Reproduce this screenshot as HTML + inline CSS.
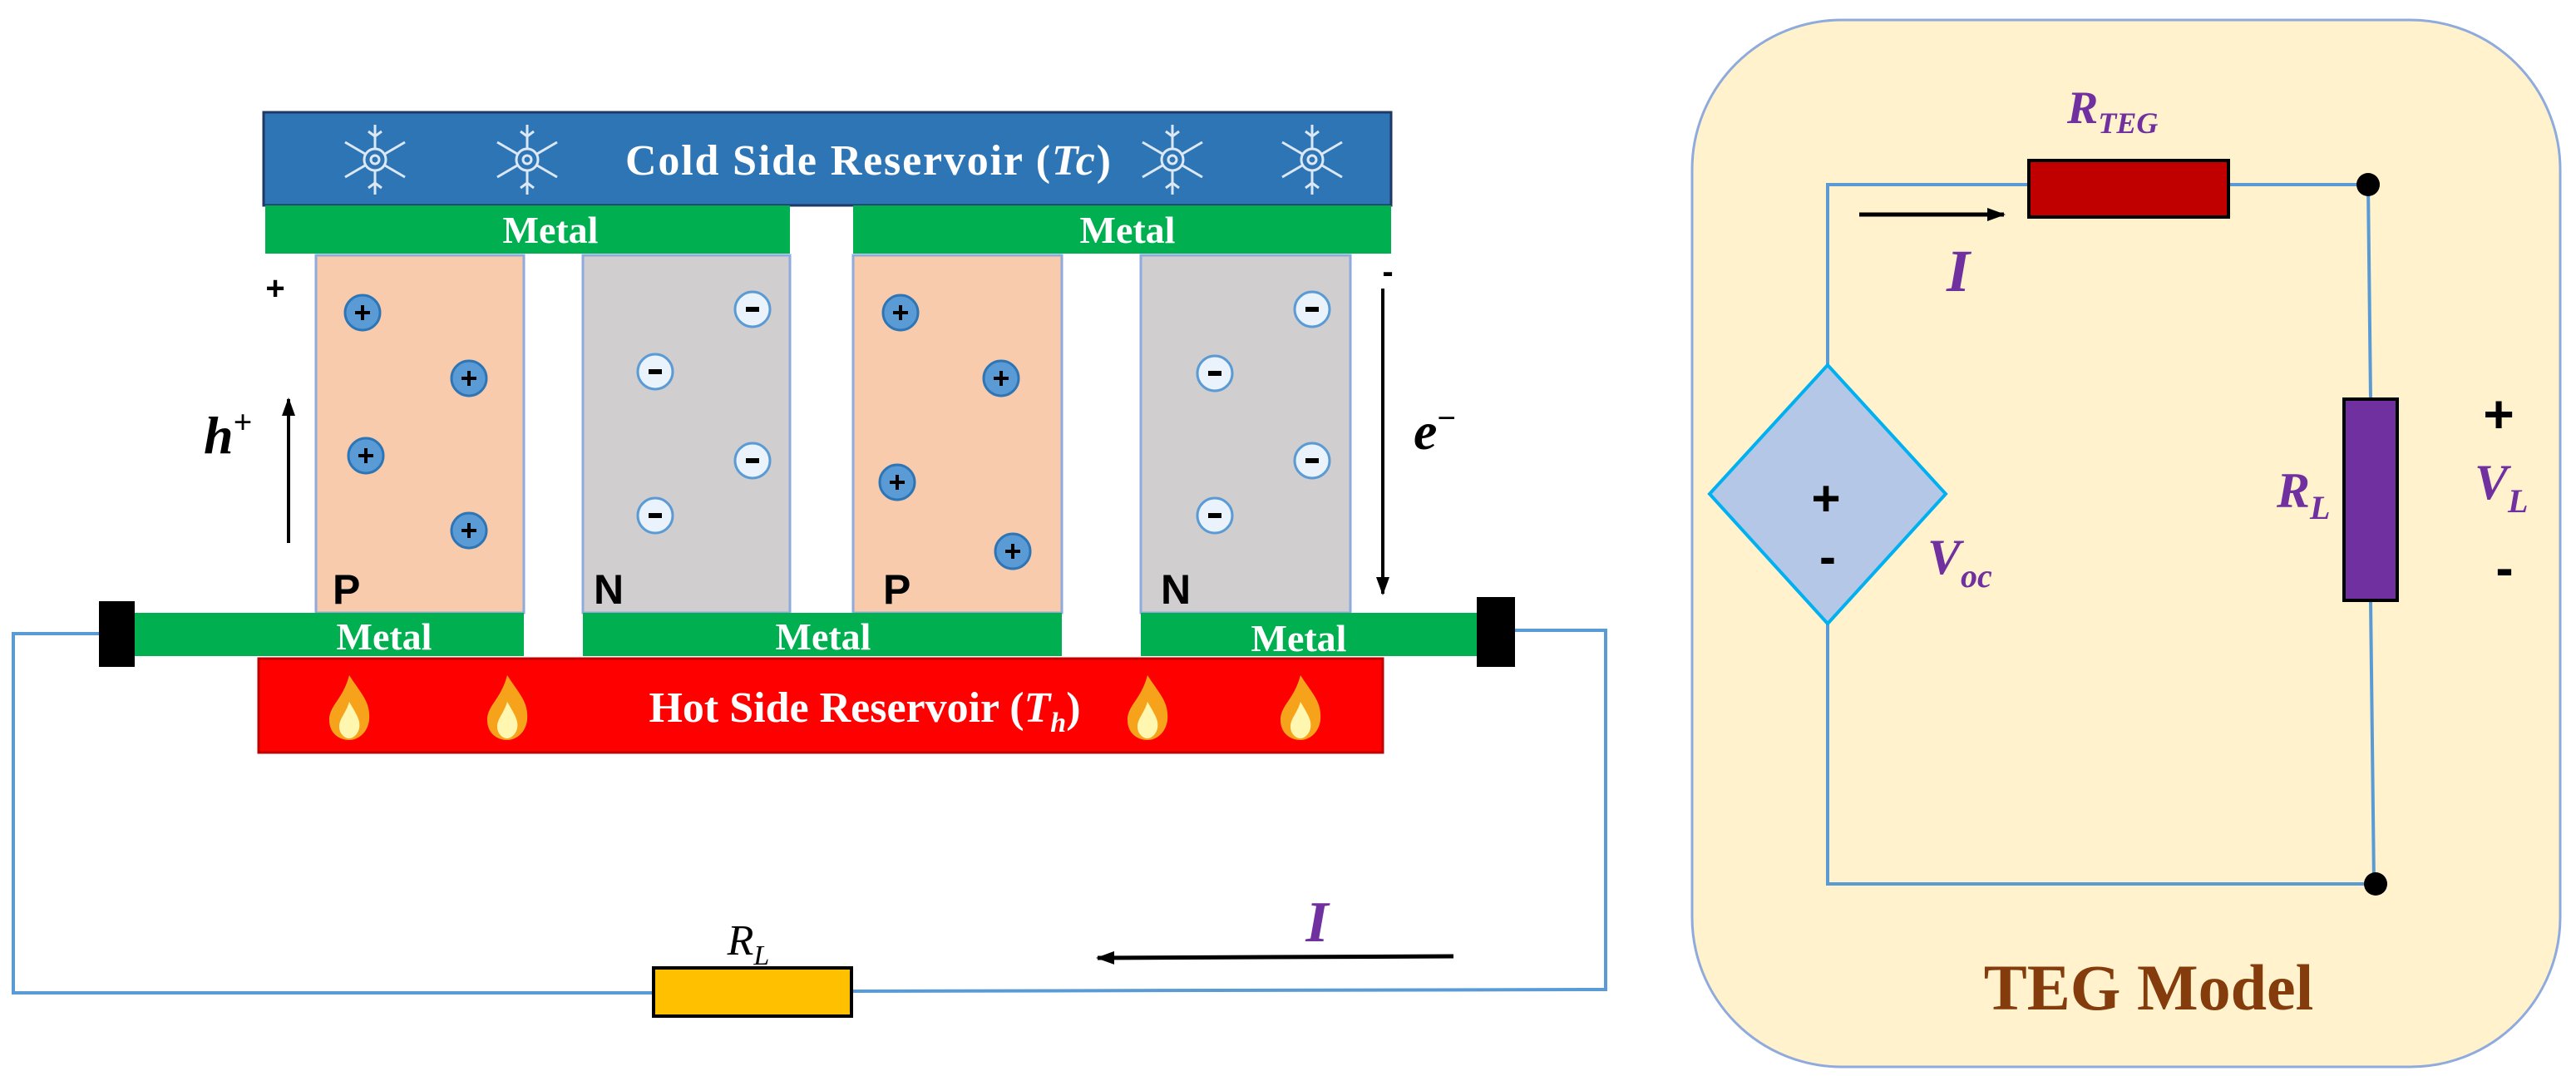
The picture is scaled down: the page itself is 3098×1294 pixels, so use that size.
<!DOCTYPE html>
<html><head><meta charset="utf-8"><style>html,body{margin:0;padding:0;background:#fff}svg{display:block}</style></head>
<body>
<svg width="3098" height="1294" viewBox="0 0 3098 1294" xmlns="http://www.w3.org/2000/svg">
<defs>
<marker id="ah" markerWidth="22" markerHeight="16" refX="20" refY="8" orient="auto" markerUnits="userSpaceOnUse"><path d="M0,0 L22,8 L0,16 z" fill="#000"/></marker>
<g id="snow" stroke="#dce8f5" stroke-width="3" fill="none">
<line x1="0" y1="-42" x2="0" y2="42"/><line x1="-36" y1="-21" x2="36" y2="21"/><line x1="-36" y1="21" x2="36" y2="-21"/>
<circle r="13" fill="#2e75b6"/><circle r="5"/>
<path d="M-8,-34 L0,-28 L8,-34 M-8,34 L0,28 L8,34"/>
</g>
<g id="flame">
<path d="M0,-40 C14,-18 26,-8 24,14 C22,30 10,38 0,38 C-12,38 -24,30 -24,14 C-24,-4 -8,-10 0,-40 z" fill="#f7a21b"/>
<path d="M0,-8 C8,6 14,14 12,24 C10,32 4,36 0,36 C-6,36 -12,30 -12,22 C-12,12 -4,6 0,-8 z" fill="#fff6b0"/>
</g>
<g id="pc"><circle r="21" fill="#5b9bd5" stroke="#2e75b6" stroke-width="3"/><path d="M-9,0 H9 M0,-9 V9" stroke="#000" stroke-width="4"/></g>
<g id="nc"><circle r="21" fill="#eaf2fb" stroke="#5b9bd5" stroke-width="3"/><path d="M-8,0 H8" stroke="#000" stroke-width="6"/></g>
</defs>

<polyline points="119,762 16,762 16,1194 786,1194" fill="none" stroke="#5b9bd5" stroke-width="4"/>
<polyline points="1024,1192 1931,1190 1931,758 1822,758" fill="none" stroke="#5b9bd5" stroke-width="4"/>
<rect x="786" y="1164" width="238" height="58" fill="#ffc000" stroke="#000" stroke-width="4"/>
<text x="900" y="1148" font-family="Liberation Serif,serif" font-style="italic" font-size="52" text-anchor="middle">R<tspan font-size="34" dy="12">L</tspan></text>
<line x1="1748" y1="1150" x2="1320" y2="1152" stroke="#000" stroke-width="5" marker-end="url(#ah)"/>
<text x="1584" y="1132" font-family="Liberation Serif,serif" font-style="italic" font-weight="bold" font-size="70" fill="#7030a0" text-anchor="middle">I</text>

<rect x="317" y="135" width="1356" height="112" fill="#2e75b6" stroke="#1f3864" stroke-width="3"/>
<use href="#snow" x="451" y="192"/><use href="#snow" x="634" y="192"/><use href="#snow" x="1410" y="192"/><use href="#snow" x="1578" y="192"/>
<text x="1044" y="210" font-family="Liberation Serif,serif" font-weight="bold" font-size="52" fill="#fff" text-anchor="middle" textLength="584">Cold Side Reservoir (<tspan font-style="italic">Tc</tspan>)</text>
<rect x="319" y="247" width="631" height="58" fill="#00b050"/>
<rect x="1026" y="247" width="647" height="58" fill="#00b050"/>
<text x="662" y="292" font-family="Liberation Serif,serif" font-weight="bold" font-size="46" fill="#fff" text-anchor="middle">Metal</text>
<text x="1356" y="292" font-family="Liberation Serif,serif" font-weight="bold" font-size="46" fill="#fff" text-anchor="middle">Metal</text>

<g stroke="#8faadc" stroke-width="3">
<rect x="380" y="307" width="250" height="430" fill="#f8cbad"/>
<rect x="701" y="307" width="249" height="430" fill="#d0cece"/>
<rect x="1026" y="307" width="251" height="430" fill="#f8cbad"/>
<rect x="1372" y="307" width="252" height="430" fill="#d0cece"/>
</g>
<use href="#pc" x="436" y="376"/><use href="#pc" x="564" y="455"/><use href="#pc" x="440" y="548"/><use href="#pc" x="564" y="638"/>
<use href="#nc" x="905" y="372"/><use href="#nc" x="788" y="447"/><use href="#nc" x="905" y="554"/><use href="#nc" x="788" y="620"/>
<use href="#pc" x="1083" y="376"/><use href="#pc" x="1204" y="455"/><use href="#pc" x="1079" y="580"/><use href="#pc" x="1218" y="663"/>
<use href="#nc" x="1578" y="372"/><use href="#nc" x="1461" y="449"/><use href="#nc" x="1578" y="554"/><use href="#nc" x="1461" y="620"/>
<g font-family="Liberation Sans,sans-serif" font-weight="bold" font-size="50">
<text x="400" y="726">P</text><text x="714" y="726">N</text><text x="1062" y="726">P</text><text x="1396" y="726">N</text>
</g>

<rect x="162" y="737" width="468" height="52" fill="#00b050"/>
<rect x="701" y="737" width="576" height="52" fill="#00b050"/>
<rect x="1372" y="737" width="404" height="52" fill="#00b050"/>
<g font-family="Liberation Serif,serif" font-weight="bold" font-size="46" fill="#fff" text-anchor="middle">
<text x="462" y="781">Metal</text><text x="990" y="781">Metal</text><text x="1562" y="783">Metal</text></g>
<rect x="119" y="723" width="43" height="79" fill="#000"/>
<rect x="1776" y="718" width="46" height="84" fill="#000"/>

<rect x="311" y="792" width="1352" height="113" fill="#ff0000" stroke="#c00000" stroke-width="3"/>
<use href="#flame" x="420" y="852"/><use href="#flame" x="610" y="852"/><use href="#flame" x="1380" y="852"/><use href="#flame" x="1564" y="852"/>
<text x="1040" y="868" font-family="Liberation Serif,serif" font-weight="bold" font-size="52" fill="#fff" text-anchor="middle">Hot Side Reservoir (<tspan font-style="italic">T<tspan font-size="34" dy="12">h</tspan></tspan><tspan dy="-12">)</tspan></text>

<text x="331" y="360" font-family="Liberation Sans,sans-serif" font-weight="bold" font-size="40" text-anchor="middle">+</text>
<line x1="347" y1="653" x2="347" y2="480" stroke="#000" stroke-width="4" marker-end="url(#ah)"/>
<text x="245" y="545" font-family="Liberation Serif,serif" font-style="italic" font-weight="bold" font-size="64">h<tspan font-size="40" dy="-24" font-style="normal">+</tspan></text>
<text x="1669" y="340" font-family="Liberation Sans,sans-serif" font-weight="bold" font-size="40" text-anchor="middle">-</text>
<line x1="1663" y1="347" x2="1663" y2="714" stroke="#000" stroke-width="4" marker-end="url(#ah)"/>
<text x="1700" y="540" font-family="Liberation Serif,serif" font-style="italic" font-weight="bold" font-size="64">e<tspan font-size="40" dy="-24" font-style="normal">−</tspan></text>

<rect x="2035" y="24" width="1044" height="1259" rx="180" ry="180" fill="#fff2cc" stroke="#8faadc" stroke-width="3"/>
<polyline points="2198,439 2198,222 2440,222" fill="none" stroke="#5b9bd5" stroke-width="4"/>
<polyline points="2680,222 2848,222 2851,480" fill="none" stroke="#5b9bd5" stroke-width="4"/>
<polyline points="2851,722 2855,1063 2198,1063 2198,750" fill="none" stroke="#5b9bd5" stroke-width="4"/>
<rect x="2440" y="193" width="240" height="68" fill="#c00000" stroke="#000" stroke-width="4"/>
<rect x="2819" y="480" width="64" height="242" fill="#7030a0" stroke="#000" stroke-width="4"/>
<circle cx="2848" cy="222" r="14" fill="#000"/>
<circle cx="2857" cy="1063" r="14" fill="#000"/>
<polygon points="2198,439 2340,594 2198,750 2056,594" fill="#b4c7e7" stroke="#00b0f0" stroke-width="4"/>
<text x="2196" y="620" font-family="Liberation Sans,sans-serif" font-weight="bold" font-size="60" text-anchor="middle">+</text>
<text x="2198" y="690" font-family="Liberation Sans,sans-serif" font-weight="bold" font-size="60" text-anchor="middle">-</text>
<line x1="2236" y1="258" x2="2410" y2="258" stroke="#000" stroke-width="5" marker-end="url(#ah)"/>
<g font-family="Liberation Serif,serif" font-style="italic" font-weight="bold" fill="#7030a0">
<text x="2355" y="350" font-size="72" text-anchor="middle">I</text>
<text x="2486" y="148" font-size="56">R<tspan font-size="36" dy="12">TEG</tspan></text>
<text x="2318" y="690" font-size="60">V<tspan font-size="40" dy="16">oc</tspan></text>
<text x="2738" y="610" font-size="60">R<tspan font-size="40" dy="14">L</tspan></text>
<text x="2976" y="600" font-size="60">V<tspan font-size="40" dy="16">L</tspan></text>
</g>
<text x="3005" y="520" font-family="Liberation Sans,sans-serif" font-weight="bold" font-size="64" text-anchor="middle">+</text>
<text x="3012" y="705" font-family="Liberation Sans,sans-serif" font-weight="bold" font-size="64" text-anchor="middle">-</text>
<text x="2584" y="1214" font-family="Liberation Serif,serif" font-weight="bold" font-size="78" fill="#843c0c" text-anchor="middle">TEG Model</text>
</svg>
</body></html>
